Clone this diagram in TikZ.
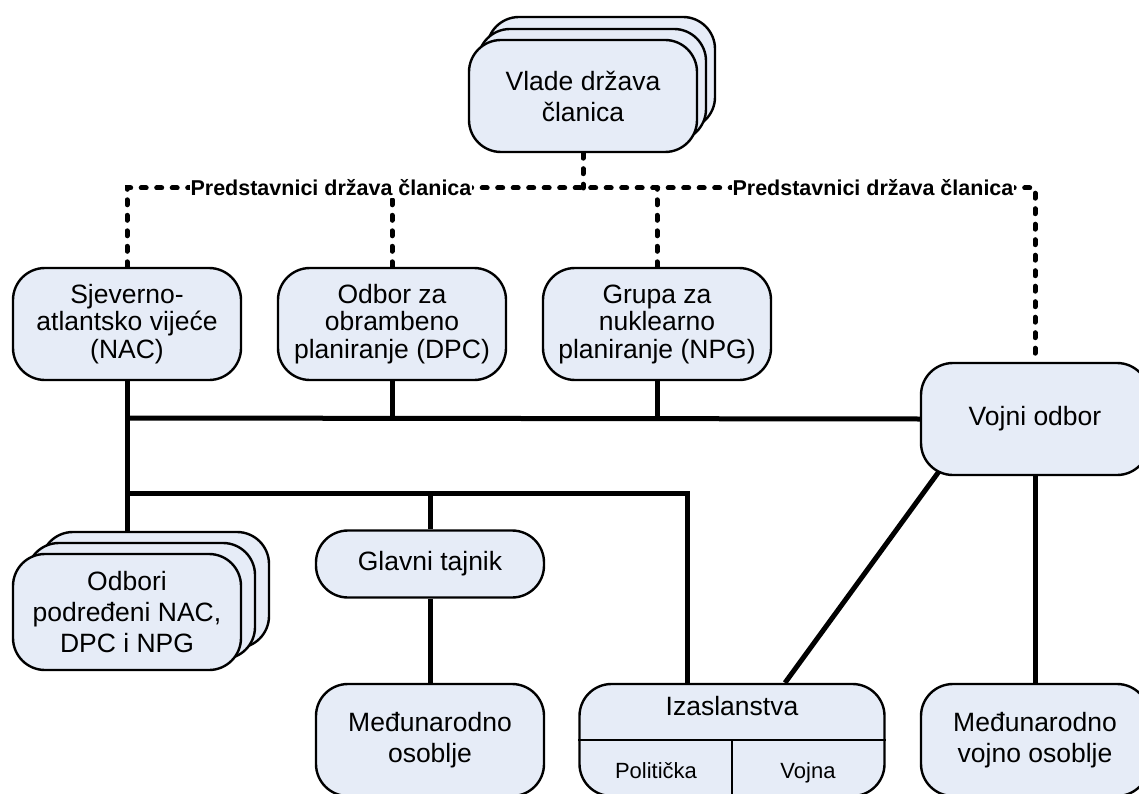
\documentclass[tikz,border=0pt]{standalone}
\usepackage{fontspec}
\setmainfont{Liberation Sans}
\usetikzlibrary{positioning, backgrounds}

\definecolor{boxfill}{RGB}{230,236,247}

\begin{document}
\begin{tikzpicture}[x=1pt, y=-1pt,
    org box/.style={
        draw=black, fill=boxfill, line width=2.4pt, rounded corners=32pt,
        minimum width=228pt, minimum height=112pt, align=center, inner sep=0pt,
        font=\fontsize{26.5}{31}\selectfont
    },
    three lines/.style={font=\fontsize{26.5}{27.5}\selectfont},
    pill box/.style={org box, minimum height=67pt},
    sub lbl/.style={anchor=base, inner sep=0pt, font=\fontsize{22}{24}\selectfont},
    link/.style={line width=5pt},
    rep link/.style={line width=5pt, line cap=round, dash pattern=on 5pt off 10.5pt},
    rep lbl/.style={fill=white, inner xsep=1pt, inner ysep=2pt,
        font=\fontsize{21.5}{24}\selectfont\bfseries}
]

\useasboundingbox (0,0) rectangle (1139,794);

% ------------------------------------------------------------------------------
% 1. VLADE (stog od tri kutije)
% ------------------------------------------------------------------------------
\node[org box] (vladeC) at (601,73) {};
\node[org box] (vladeB) at (592,85) {};
\node[org box] (vlade) at (583,96) {Vlade država\\članica};

% ------------------------------------------------------------------------------
% 2. ODBORI I VIJEĆA
% ------------------------------------------------------------------------------
\node[org box, three lines] (nac) at (127,324) {Sjeverno-\\atlantsko vijeće\\(NAC)};
\node[org box, three lines] (dpc) at (392,324) {Odbor za\\obrambeno\\planiranje (DPC)};
\node[org box, three lines] (npg) at (657,324) {Grupa za\\nuklearno\\planiranje (NPG)};
\node[org box] (vojni) at (1035,419) {Vojni odbor};

% ------------------------------------------------------------------------------
% 3. DONJI RED
% ------------------------------------------------------------------------------
\node[org box, minimum height=116pt] (odboriC) at (155,590) {};
\node[org box, minimum height=116pt] (odboriB) at (141,601) {};
\node[org box, minimum height=116pt] (odbori) at (127,612) {Odbori\\podređeni NAC,\\DPC i NPG};

\node[pill box] (tajnik) at (430,564) {Glavni tajnik};
\node[org box] (osoblje) at (430,740) {Međunarodno\\osoblje};
\node[org box] (vojosoblje) at (1035,740) {Međunarodno\\vojno osoblje};

% Izaslanstva (podijeljena kutija)
\node[org box, minimum width=305pt] (izasl) at (732,740) {};
\node[sub lbl, font=\fontsize{26.5}{28}\selectfont] (izaslT) at (732,715) {Izaslanstva};
\draw[line width=2.4pt] (izasl.west) -- (izasl.east);
\draw[line width=2.4pt] (izasl.center) -- (izasl.south);
\node[sub lbl] (polit) at (656,778) {Politička};
\node[sub lbl] (vojna) at (808,778) {Vojna};

% ------------------------------------------------------------------------------
% 4. VEZE
% ------------------------------------------------------------------------------
\coordinate (rep) at (0,188);
\coordinate (bus1) at (0,418);
\coordinate (bus2) at (0,493);
\coordinate (izasl in) at ([xshift=-45pt]izasl.north);
\coordinate (izasl diag) at ([xshift=53pt]izasl.north);
\coordinate (vojni diag) at ([shift={(31pt,21pt)}]vojni.south west);

\node[rep lbl] (rep left) at (331,188) {Predstavnici država članica};
\node[rep lbl] (rep right) at (873,188) {Predstavnici država članica};

\begin{scope}[on background layer]
    % predstavnici (isprekidano)
    \draw[rep link] (nac.north) -- (nac.north |- rep) -| (vojni.north);
    \draw[rep link] (vlade.south) -- (vlade.south |- rep);
    \foreach \x in {dpc, npg} {
        \draw[rep link] (\x.north) -- (\x.north |- rep);
    }

    % sabirnice (pune linije)
    \draw[link] (nac.south) -- (nac.south |- odboriC.north);
    \draw[link] (nac.south |- bus1) -- (vojni.west);
    \foreach \x in {dpc, npg} {
        \draw[link] (\x.south) -- (\x.south |- bus1);
    }
    \draw[link] (nac.south |- bus2) -| (izasl in);
    \draw[link] (tajnik.north |- bus2) -- (tajnik.north);
    \draw[link] (tajnik.south) -- (osoblje.north);
    \draw[link] (vojni.south) -- (vojosoblje.north);
    \draw[link] (vojni diag) -- (izasl diag);
\end{scope}

\end{tikzpicture}
\end{document}
